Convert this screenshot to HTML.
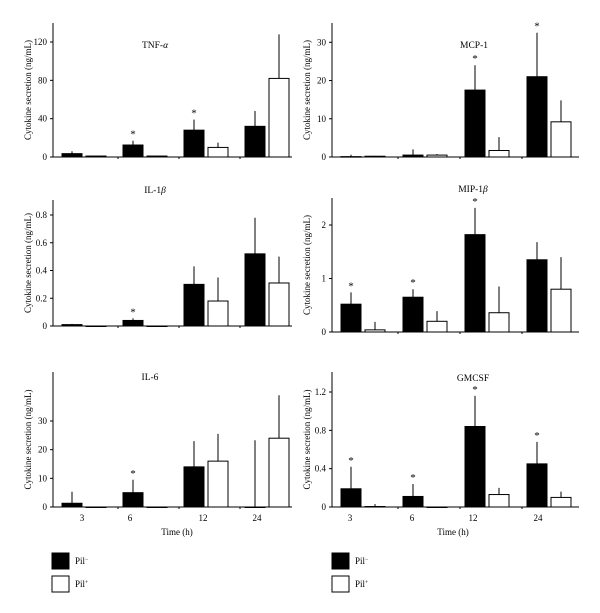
<!DOCTYPE html>
<html><head><meta charset="utf-8">
<style>
html,body{margin:0;padding:0;background:#fff;}
svg{display:block;font-family:"Liberation Serif",serif;}
</style></head>
<body>
<svg id="fig" width="600" height="613" viewBox="0 0 600 613"></svg>
<script>
const times = ["3","6","12","24"];
// TNF-alpha
const tnfNeg = [3.5, 12.5, 28, 32];
const tnfNegErr = [6, 17, 39, 48];
const tnfPos = [1, 1, 10, 82];
const tnfPosErr = [1.5, 1.5, 15, 128];
const tnfStars = [false, true, true, false];
// MCP-1
const mcpNeg = [0.1, 0.5, 17.5, 21];
const mcpNegErr = [0.6, 2, 24, 32.5];
const mcpPos = [0.2, 0.5, 1.7, 9.2];
const mcpPosErr = [0.3, 0.8, 5.2, 14.8];
const mcpStars = [false, false, true, true];
// IL-1beta
const il1Neg = [0.01, 0.04, 0.3, 0.52];
const il1NegErr = [0.015, 0.055, 0.43, 0.78];
const il1Pos = [0, 0, 0.18, 0.31];
const il1PosErr = [0, 0, 0.35, 0.5];
const il1Stars = [false, true, false, false];
// MIP-1beta
const mipNeg = [0.52, 0.65, 1.82, 1.35];
const mipNegErr = [0.74, 0.8, 2.32, 1.68];
const mipPos = [0.04, 0.2, 0.36, 0.8];
const mipPosErr = [0.19, 0.39, 0.85, 1.4];
const mipStars = [true, true, true, false];
// IL-6
const il6Neg = [1.3, 5, 14, 0];
const il6NegErr = [5.3, 9.5, 23, 23.3];
const il6Pos = [0, 0, 16, 24];
const il6PosErr = [0, 0, 25.5, 39];
const il6Stars = [false, true, false, false];
// GMCSF
const gmNeg = [0.19, 0.11, 0.84, 0.45];
const gmNegErr = [0.42, 0.24, 1.16, 0.68];
const gmPos = [0.005, 0, 0.13, 0.1];
const gmPosErr = [0.03, 0, 0.2, 0.16];
const gmStars = [true, true, true, true];
// tick labels
const tnfTicks = [0, 40, 80, 120];
const mcpTicks = [0, 10, 20, 30];
const il1Ticks = [0, 0.2, 0.4, 0.6, 0.8];
const mipTicks = [0, 1, 2];
const il6Ticks = [0, 10, 20, 30];
const gmTicks = [0, 0.4, 0.8, 1.2];

const svg = document.getElementById('fig');
const NS = 'http://www.w3.org/2000/svg';
function mk(tag, attrs, parent){const e=document.createElementNS(NS,tag);for(const k in attrs)e.setAttribute(k,attrs[k]);(parent||svg).appendChild(e);return e;}

function panel(cfg){
  const g = mk('g',{});
  
  
  const ax=cfg.ax, y0=cfg.y0, scale=(y0-cfg.yRefPx)/cfg.yRefVal;
  const yS=v=>y0-v*scale;
  const xS=i=>cfg.bx+i*cfg.pitch;
  // axes
  const ya=mk('line',{x1:ax,y1:cfg.top,x2:ax,y2:y0,stroke:'#000','stroke-width':1},g);
  
  
  const xa=mk('line',{x1:ax,y1:y0,x2:cfg.xEnd,y2:y0,stroke:'#000','stroke-width':1},g);
  
  
  cfg.ticks.forEach(t=>{
    const y=yS(t);
    mk('line',{x1:ax-3,y1:y,x2:ax,y2:y,stroke:'#000'},g);
    const tx=mk('text',{x:ax-6,y:y+3,'font-size':9,'text-anchor':'end'},g);
    tx.textContent=String(t);
    
    
  });
  for(let i=1;i<4;i++){const x=xS(i)-5;mk('line',{x1:x,y1:y0,x2:x,y2:y0+2,stroke:'#000'},g);}
  const yt=mk('text',{x:0,y:0,'font-size':9,'text-anchor':'middle',transform:`translate(${ax-22},${(cfg.top+y0)/2}) rotate(-90)`},g);
  yt.textContent='Cytokine secretion (ng/mL)';
  
  
  const ti=mk('text',{x:cfg.titleX,y:cfg.titleY,'font-size':9.5,'text-anchor':'middle'},g);
  ti.innerHTML=cfg.title;
  
  
  times.forEach((t,i)=>{
    const x=xS(i);
    [[cfg.neg[i],cfg.negErr[i],'#000',x],[cfg.pos[i],cfg.posErr[i],'#fff',x+24]].forEach(([v,e,fill,bx],k)=>{
      const cx=bx+10;
      if(e>v){const el=mk('line',{x1:cx,y1:yS(e),x2:cx,y2:yS(v),stroke:'#000','stroke-width':1},g);
        
        }
      const h=Math.max(yS(0)-yS(v),0.5);
      const r=mk('rect',{x:bx,y:yS(v),width:20,height:h,fill:fill,stroke:'#000','stroke-width':1},g);
      
      
    });
    if(cfg.stars[i]){
      const s=mk('text',{x:x+10,y:yS(cfg.negErr[i])-3,'font-size':11,'text-anchor':'middle'},g);
      s.textContent='*';
      
      
    }
    if(cfg.xLabels){
      const l=mk('text',{x:cfg.xLabels[i],y:y0+14,'font-size':9,'text-anchor':'middle'},g);
      l.textContent=t;
      
      
    }
  });
  if(cfg.xLabels){
    const xt=mk('text',{x:cfg.timeX,y:y0+28,'font-size':9,'text-anchor':'middle'},g);
    xt.textContent='Time (h)';
    
    
  }
}

const L={ax:53,bx:62,pitch:61,xEnd:292};
const R={ax:332,bx:341,pitch:62,xEnd:579};
panel({...L,name:'tnf',top:23,y0:157,yRefPx:42,yRefVal:120,ticks:tnfTicks,neg:tnfNeg,negErr:tnfNegErr,pos:tnfPos,posErr:tnfPosErr,stars:tnfStars,title:'TNF-<tspan font-style="italic">α</tspan>',titleX:155,titleY:48});
panel({...R,name:'mcp',top:23,y0:157,yRefPx:42.3,yRefVal:30,ticks:mcpTicks,neg:mcpNeg,negErr:mcpNegErr,pos:mcpPos,posErr:mcpPosErr,stars:mcpStars,title:'MCP-1',titleX:474,titleY:48});
panel({...L,name:'il1b',top:200,y0:326,yRefPx:215,yRefVal:0.8,ticks:il1Ticks,neg:il1Neg,negErr:il1NegErr,pos:il1Pos,posErr:il1PosErr,stars:il1Stars,title:'IL-1<tspan font-style="italic">β</tspan>',titleX:155,titleY:193});
panel({...R,name:'mip1b',top:198,y0:332,yRefPx:225,yRefVal:2,ticks:mipTicks,neg:mipNeg,negErr:mipNegErr,pos:mipPos,posErr:mipPosErr,stars:mipStars,title:'MIP-1<tspan font-style="italic">β</tspan>',titleX:473,titleY:192});
panel({...L,name:'il6',top:372,y0:507,yRefPx:421,yRefVal:30,ticks:il6Ticks,neg:il6Neg,negErr:il6NegErr,pos:il6Pos,posErr:il6PosErr,stars:il6Stars,title:'IL-6',titleX:150,titleY:380,xLabels:[82,130,203,257],timeX:177});
panel({...R,name:'gmcsf',top:372,y0:507,yRefPx:392,yRefVal:1.2,ticks:gmTicks,neg:gmNeg,negErr:gmNegErr,pos:gmPos,posErr:gmPosErr,stars:gmStars,title:'GMCSF',titleX:473,titleY:381,xLabels:[350,412,473,538],timeX:453});

function legend(x,side){
  [['#000','Pil','−',553],['#fff','Pil','+',576]].forEach(([f,t,sup,y],k)=>{
    const r=mk('rect',{x:x,y:y,width:17,height:16,fill:f,stroke:'#000','stroke-width':1});
    
    
    const tx=mk('text',{x:x+23,y:y+11,'font-size':9});
    tx.innerHTML=t+'<tspan font-size="6" dy="-3">'+sup+'</tspan>';
    
    
  });
}
legend(52,'left');
legend(332,'right');
</script>
</body></html>
